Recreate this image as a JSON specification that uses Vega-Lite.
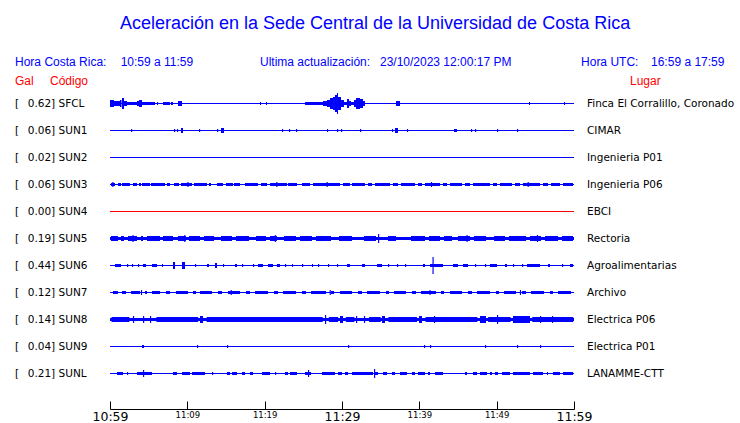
{
  "$schema": "https://vega.github.io/schema/vega-lite/v6.json",
  "padding": {"left": 15, "top": 0, "right": 0, "bottom": 0},
  "autosize": {"type": "pad"},
  "background": "white",
  "spacing": 0,
  "bounds": "flush",
  "config": {
    "view": {"stroke": null},
    "text": {"font": "Liberation Sans", "fontSize": 12, "align": "left", "baseline": "middle"}
  },
  "datasets": {
    "estaciones": [
      {"s": "SFCL", "gal": 0.62, "lugar": "Finca El Corralillo, Coronado"},
      {"s": "SUN1", "gal": 0.06, "lugar": "CIMAR"},
      {"s": "SUN2", "gal": 0.02, "lugar": "Ingenieria P01"},
      {"s": "SUN3", "gal": 0.06, "lugar": "Ingenieria P06"},
      {"s": "SUN4", "gal": 0.00, "lugar": "EBCI"},
      {"s": "SUN5", "gal": 0.19, "lugar": "Rectoria"},
      {"s": "SUN6", "gal": 0.44, "lugar": "Agroalimentarias"},
      {"s": "SUN7", "gal": 0.12, "lugar": "Archivo"},
      {"s": "SUN8", "gal": 0.14, "lugar": "Electrica P06"},
      {"s": "SUN9", "gal": 0.04, "lugar": "Electrica P01"},
      {"s": "SUNL", "gal": 0.21, "lugar": "LANAMME-CTT"}
    ],
    "segmentos": [
      {"s":"SFCL","t0":0,"t1":0.52,"a":7},{"s":"SFCL","t0":0.52,"t1":1.29,"a":5},{"s":"SFCL","t0":1.29,"t1":1.49,"a":7},{"s":"SFCL","t0":1.55,"t1":1.81,"a":11},{"s":"SFCL","t0":1.81,"t1":2.2,"a":5},{"s":"SFCL","t0":2.2,"t1":3.49,"a":3},{"s":"SFCL","t0":3.49,"t1":3.75,"a":5},{"s":"SFCL","t0":3.75,"t1":4.14,"a":7},{"s":"SFCL","t0":4.14,"t1":5.82,"a":3},{"s":"SFCL","t0":6.08,"t1":6.21,"a":3},{"s":"SFCL","t0":6.85,"t1":7.76,"a":3},{"s":"SFCL","t0":7.89,"t1":8.15,"a":3},{"s":"SFCL","t0":8.79,"t1":9.31,"a":5},{"s":"SFCL","t0":19.4,"t1":19.53,"a":3},{"s":"SFCL","t0":20.17,"t1":20.3,"a":3},{"s":"SFCL","t0":25.22,"t1":27.54,"a":3},{"s":"SFCL","t0":27.54,"t1":28.06,"a":5},{"s":"SFCL","t0":28.06,"t1":28.45,"a":7},{"s":"SFCL","t0":28.45,"t1":28.84,"a":11},{"s":"SFCL","t0":28.84,"t1":29.09,"a":13},{"s":"SFCL","t0":29.09,"t1":29.35,"a":17},{"s":"SFCL","t0":29.35,"t1":29.48,"a":21},{"s":"SFCL","t0":29.48,"t1":29.87,"a":13},{"s":"SFCL","t0":29.87,"t1":30.26,"a":7},{"s":"SFCL","t0":30.26,"t1":30.65,"a":3},{"s":"SFCL","t0":30.65,"t1":30.91,"a":9},{"s":"SFCL","t0":30.91,"t1":31.16,"a":5},{"s":"SFCL","t0":31.16,"t1":31.55,"a":3},{"s":"SFCL","t0":31.55,"t1":31.81,"a":7},{"s":"SFCL","t0":31.81,"t1":32.33,"a":11},{"s":"SFCL","t0":32.33,"t1":32.72,"a":9},{"s":"SFCL","t0":32.72,"t1":32.97,"a":5},{"s":"SFCL","t0":36.98,"t1":37.5,"a":5},{"s":"SFCL","t0":54.18,"t1":54.31,"a":3},{"s":"SFCL","t0":58.71,"t1":58.84,"a":3},

      {"s":"SUN1","t0":2.72,"t1":2.87,"a":3},{"s":"SUN1","t0":8.28,"t1":8.43,"a":3},{"s":"SUN1","t0":8.66,"t1":8.81,"a":3},{"s":"SUN1","t0":9.18,"t1":9.44,"a":5},{"s":"SUN1","t0":11.51,"t1":11.66,"a":3},{"s":"SUN1","t0":13.84,"t1":13.99,"a":3},{"s":"SUN1","t0":14.35,"t1":14.74,"a":5},{"s":"SUN1","t0":22.24,"t1":22.39,"a":3},{"s":"SUN1","t0":23.15,"t1":23.3,"a":3},{"s":"SUN1","t0":24.05,"t1":24.2,"a":3},{"s":"SUN1","t0":28.06,"t1":28.21,"a":3},{"s":"SUN1","t0":29.35,"t1":29.5,"a":3},{"s":"SUN1","t0":29.87,"t1":30.02,"a":3},{"s":"SUN1","t0":32.33,"t1":32.48,"a":3},{"s":"SUN1","t0":36.46,"t1":36.61,"a":3},{"s":"SUN1","t0":36.85,"t1":37.24,"a":5},{"s":"SUN1","t0":38.4,"t1":38.55,"a":3},{"s":"SUN1","t0":44.48,"t1":44.87,"a":3},{"s":"SUN1","t0":46.68,"t1":46.83,"a":3},{"s":"SUN1","t0":47.2,"t1":47.35,"a":3},{"s":"SUN1","t0":50.04,"t1":50.19,"a":3},{"s":"SUN1","t0":52.63,"t1":52.78,"a":3},

      {"s":"SUN3","t0":0.13,"t1":0.65,"a":3},{"s":"SUN3","t0":1.03,"t1":1.42,"a":3},{"s":"SUN3","t0":1.55,"t1":2.59,"a":3},{"s":"SUN3","t0":2.97,"t1":3.49,"a":3},{"s":"SUN3","t0":3.75,"t1":4.01,"a":3},{"s":"SUN3","t0":4.14,"t1":5.17,"a":3},{"s":"SUN3","t0":5.3,"t1":7.11,"a":3},{"s":"SUN3","t0":7.37,"t1":7.76,"a":3},{"s":"SUN3","t0":8.28,"t1":8.92,"a":3},{"s":"SUN3","t0":9.18,"t1":10.6,"a":3},{"s":"SUN3","t0":10.86,"t1":12.54,"a":3},{"s":"SUN3","t0":12.8,"t1":13.06,"a":3},{"s":"SUN3","t0":13.84,"t1":14.61,"a":3},{"s":"SUN3","t0":15.0,"t1":15.9,"a":3},{"s":"SUN3","t0":16.03,"t1":16.81,"a":3},{"s":"SUN3","t0":17.46,"t1":19.14,"a":3},{"s":"SUN3","t0":19.53,"t1":20.3,"a":3},{"s":"SUN3","t0":20.69,"t1":22.89,"a":3},{"s":"SUN3","t0":23.02,"t1":24.18,"a":3},{"s":"SUN3","t0":24.83,"t1":25.86,"a":3},{"s":"SUN3","t0":26.25,"t1":29.74,"a":3},{"s":"SUN3","t0":30.13,"t1":31.03,"a":3},{"s":"SUN3","t0":31.29,"t1":32.97,"a":3},{"s":"SUN3","t0":33.36,"t1":33.88,"a":3},{"s":"SUN3","t0":34.27,"t1":36.21,"a":3},{"s":"SUN3","t0":36.59,"t1":37.24,"a":3},{"s":"SUN3","t0":37.63,"t1":39.44,"a":3},{"s":"SUN3","t0":39.83,"t1":40.34,"a":3},{"s":"SUN3","t0":40.73,"t1":42.67,"a":3},{"s":"SUN3","t0":43.06,"t1":43.58,"a":3},{"s":"SUN3","t0":43.97,"t1":45.52,"a":3},{"s":"SUN3","t0":45.91,"t1":46.55,"a":3},{"s":"SUN3","t0":46.94,"t1":49.14,"a":3},{"s":"SUN3","t0":49.53,"t1":50.04,"a":3},{"s":"SUN3","t0":50.43,"t1":51.98,"a":3},{"s":"SUN3","t0":52.37,"t1":53.02,"a":3},{"s":"SUN3","t0":53.4,"t1":55.6,"a":3},{"s":"SUN3","t0":55.99,"t1":56.64,"a":3},{"s":"SUN3","t0":57.03,"t1":58.19,"a":3},{"s":"SUN3","t0":58.58,"t1":59.87,"a":3},{"s":"SUN3","t0":0.3,"t1":0.45,"a":5},{"s":"SUN3","t0":10.0,"t1":10.15,"a":5},{"s":"SUN3","t0":21.5,"t1":21.65,"a":5},{"s":"SUN3","t0":28.0,"t1":28.15,"a":5},{"s":"SUN3","t0":41.5,"t1":41.65,"a":5},{"s":"SUN3","t0":54.0,"t1":54.15,"a":5},

      {"s":"SUN5","t0":0,"t1":60,"a":3},{"s":"SUN5","t0":0.13,"t1":1.03,"a":5},{"s":"SUN5","t0":1.42,"t1":1.81,"a":5},{"s":"SUN5","t0":2.33,"t1":3.49,"a":5},{"s":"SUN5","t0":4.01,"t1":4.27,"a":5},{"s":"SUN5","t0":4.78,"t1":6.47,"a":5},{"s":"SUN5","t0":6.85,"t1":8.15,"a":5},{"s":"SUN5","t0":8.79,"t1":9.83,"a":5},{"s":"SUN5","t0":10.22,"t1":11.64,"a":5},{"s":"SUN5","t0":12.15,"t1":13.45,"a":5},{"s":"SUN5","t0":14.35,"t1":15.78,"a":5},{"s":"SUN5","t0":16.29,"t1":17.97,"a":5},{"s":"SUN5","t0":18.88,"t1":20.17,"a":5},{"s":"SUN5","t0":20.69,"t1":21.59,"a":5},{"s":"SUN5","t0":22.5,"t1":24.05,"a":5},{"s":"SUN5","t0":24.57,"t1":26.12,"a":5},{"s":"SUN5","t0":26.64,"t1":28.58,"a":5},{"s":"SUN5","t0":29.61,"t1":31.29,"a":5},{"s":"SUN5","t0":32.84,"t1":34.4,"a":5},{"s":"SUN5","t0":34.66,"t1":34.81,"a":9},{"s":"SUN5","t0":35.95,"t1":36.98,"a":5},{"s":"SUN5","t0":38.92,"t1":40.73,"a":5},{"s":"SUN5","t0":41.25,"t1":42.67,"a":5},{"s":"SUN5","t0":43.19,"t1":44.22,"a":5},{"s":"SUN5","t0":45.0,"t1":46.55,"a":5},{"s":"SUN5","t0":47.07,"t1":48.62,"a":5},{"s":"SUN5","t0":49.66,"t1":51.08,"a":5},{"s":"SUN5","t0":51.59,"t1":53.79,"a":5},{"s":"SUN5","t0":54.31,"t1":55.73,"a":5},{"s":"SUN5","t0":56.25,"t1":57.93,"a":5},{"s":"SUN5","t0":58.45,"t1":59.87,"a":5},{"s":"SUN5","t0":2.9,"t1":3.05,"a":7},{"s":"SUN5","t0":9.6,"t1":9.75,"a":7},{"s":"SUN5","t0":21.3,"t1":21.45,"a":7},{"s":"SUN5","t0":46.1,"t1":46.25,"a":7},{"s":"SUN5","t0":55.2,"t1":55.35,"a":7},

      {"s":"SUN6","t0":0.65,"t1":1.42,"a":3},{"s":"SUN6","t0":2.2,"t1":2.35,"a":3},{"s":"SUN6","t0":2.84,"t1":2.99,"a":3},{"s":"SUN6","t0":3.62,"t1":3.77,"a":3},{"s":"SUN6","t0":4.27,"t1":4.66,"a":3},{"s":"SUN6","t0":5.43,"t1":6.08,"a":3},{"s":"SUN6","t0":6.72,"t1":6.85,"a":3},{"s":"SUN6","t0":8.15,"t1":8.41,"a":7},{"s":"SUN6","t0":9.31,"t1":9.7,"a":7},{"s":"SUN6","t0":10.99,"t1":11.14,"a":3},{"s":"SUN6","t0":12.54,"t1":12.8,"a":3},{"s":"SUN6","t0":13.58,"t1":13.84,"a":5},{"s":"SUN6","t0":14.61,"t1":14.76,"a":3},{"s":"SUN6","t0":16.16,"t1":16.42,"a":3},{"s":"SUN6","t0":17.07,"t1":17.22,"a":3},{"s":"SUN6","t0":18.49,"t1":18.64,"a":3},{"s":"SUN6","t0":19.14,"t1":19.78,"a":3},{"s":"SUN6","t0":20.43,"t1":21.08,"a":3},{"s":"SUN6","t0":21.59,"t1":21.98,"a":3},{"s":"SUN6","t0":22.63,"t1":22.78,"a":3},{"s":"SUN6","t0":23.54,"t1":23.66,"a":3},{"s":"SUN6","t0":24.83,"t1":24.98,"a":3},{"s":"SUN6","t0":26.12,"t1":26.25,"a":3},{"s":"SUN6","t0":26.9,"t1":27.05,"a":3},{"s":"SUN6","t0":28.19,"t1":28.34,"a":3},{"s":"SUN6","t0":29.35,"t1":29.5,"a":3},{"s":"SUN6","t0":30.65,"t1":31.03,"a":3},{"s":"SUN6","t0":32.59,"t1":32.97,"a":3},{"s":"SUN6","t0":34.53,"t1":35.17,"a":3},{"s":"SUN6","t0":35.95,"t1":36.1,"a":3},{"s":"SUN6","t0":37.11,"t1":37.26,"a":3},{"s":"SUN6","t0":38.15,"t1":38.3,"a":3},{"s":"SUN6","t0":40.47,"t1":40.73,"a":3},{"s":"SUN6","t0":41.38,"t1":43.06,"a":3},{"s":"SUN6","t0":41.7,"t1":41.85,"a":17},{"s":"SUN6","t0":44.35,"t1":45.0,"a":3},{"s":"SUN6","t0":45.65,"t1":46.29,"a":3},{"s":"SUN6","t0":47.2,"t1":47.35,"a":3},{"s":"SUN6","t0":48.49,"t1":48.64,"a":3},{"s":"SUN6","t0":49.14,"t1":50.04,"a":3},{"s":"SUN6","t0":51.08,"t1":51.34,"a":3},{"s":"SUN6","t0":52.11,"t1":52.26,"a":3},{"s":"SUN6","t0":53.28,"t1":53.43,"a":3},{"s":"SUN6","t0":53.92,"t1":55.6,"a":3},{"s":"SUN6","t0":56.64,"t1":56.9,"a":3},{"s":"SUN6","t0":58.45,"t1":58.6,"a":3},{"s":"SUN6","t0":59.48,"t1":59.87,"a":3},

      {"s":"SUN7","t0":0.39,"t1":1.03,"a":3},{"s":"SUN7","t0":1.55,"t1":2.07,"a":3},{"s":"SUN7","t0":2.72,"t1":3.88,"a":3},{"s":"SUN7","t0":4.53,"t1":4.78,"a":3},{"s":"SUN7","t0":5.43,"t1":6.47,"a":3},{"s":"SUN7","t0":7.24,"t1":7.76,"a":3},{"s":"SUN7","t0":8.53,"t1":10.09,"a":3},{"s":"SUN7","t0":10.73,"t1":11.12,"a":3},{"s":"SUN7","t0":11.64,"t1":13.19,"a":3},{"s":"SUN7","t0":13.97,"t1":14.48,"a":3},{"s":"SUN7","t0":15.26,"t1":16.81,"a":3},{"s":"SUN7","t0":17.59,"t1":18.1,"a":3},{"s":"SUN7","t0":18.75,"t1":20.43,"a":3},{"s":"SUN7","t0":21.21,"t1":21.72,"a":3},{"s":"SUN7","t0":22.37,"t1":24.05,"a":3},{"s":"SUN7","t0":24.83,"t1":25.34,"a":3},{"s":"SUN7","t0":25.99,"t1":27.93,"a":3},{"s":"SUN7","t0":28.58,"t1":28.97,"a":3},{"s":"SUN7","t0":29.74,"t1":31.29,"a":3},{"s":"SUN7","t0":32.07,"t1":32.59,"a":3},{"s":"SUN7","t0":33.23,"t1":34.91,"a":3},{"s":"SUN7","t0":35.69,"t1":36.08,"a":3},{"s":"SUN7","t0":36.72,"t1":38.27,"a":3},{"s":"SUN7","t0":39.05,"t1":39.57,"a":3},{"s":"SUN7","t0":40.22,"t1":42.16,"a":3},{"s":"SUN7","t0":42.8,"t1":43.19,"a":3},{"s":"SUN7","t0":43.97,"t1":45.52,"a":3},{"s":"SUN7","t0":46.29,"t1":46.81,"a":3},{"s":"SUN7","t0":47.46,"t1":49.14,"a":3},{"s":"SUN7","t0":49.91,"t1":50.3,"a":3},{"s":"SUN7","t0":50.95,"t1":52.5,"a":3},{"s":"SUN7","t0":53.28,"t1":53.79,"a":3},{"s":"SUN7","t0":54.44,"t1":56.12,"a":3},{"s":"SUN7","t0":56.9,"t1":57.28,"a":3},{"s":"SUN7","t0":57.93,"t1":59.61,"a":3},{"s":"SUN7","t0":4.0,"t1":4.15,"a":5},{"s":"SUN7","t0":15.6,"t1":15.75,"a":5},{"s":"SUN7","t0":28.4,"t1":28.55,"a":5},{"s":"SUN7","t0":41.3,"t1":41.45,"a":5},{"s":"SUN7","t0":53.0,"t1":53.15,"a":5},

      {"s":"SUN8","t0":0,"t1":60,"a":3},{"s":"SUN8","t0":0.2,"t1":2.5,"a":5},{"s":"SUN8","t0":2.97,"t1":3.12,"a":7},{"s":"SUN8","t0":4.27,"t1":4.42,"a":7},{"s":"SUN8","t0":5.17,"t1":5.32,"a":7},{"s":"SUN8","t0":6.0,"t1":11.4,"a":5},{"s":"SUN8","t0":11.64,"t1":12.03,"a":7},{"s":"SUN8","t0":12.5,"t1":27.5,"a":5},{"s":"SUN8","t0":27.8,"t1":27.95,"a":9},{"s":"SUN8","t0":28.3,"t1":29.5,"a":5},{"s":"SUN8","t0":29.74,"t1":30.13,"a":7},{"s":"SUN8","t0":30.5,"t1":31.6,"a":5},{"s":"SUN8","t0":31.81,"t1":31.96,"a":7},{"s":"SUN8","t0":32.84,"t1":32.99,"a":7},{"s":"SUN8","t0":33.5,"t1":35.0,"a":5},{"s":"SUN8","t0":35.17,"t1":35.56,"a":7},{"s":"SUN8","t0":36.0,"t1":39.7,"a":5},{"s":"SUN8","t0":39.96,"t1":40.34,"a":7},{"s":"SUN8","t0":40.8,"t1":47.5,"a":5},{"s":"SUN8","t0":41.9,"t1":42.05,"a":7},{"s":"SUN8","t0":47.84,"t1":48.62,"a":7},{"s":"SUN8","t0":48.9,"t1":51.8,"a":5},{"s":"SUN8","t0":50.04,"t1":50.19,"a":9},{"s":"SUN8","t0":52.11,"t1":54.31,"a":7},{"s":"SUN8","t0":54.6,"t1":59.9,"a":5},{"s":"SUN8","t0":55.6,"t1":55.75,"a":7},{"s":"SUN8","t0":57.15,"t1":57.3,"a":7},

      {"s":"SUN9","t0":4.14,"t1":4.4,"a":3},{"s":"SUN9","t0":11.25,"t1":11.4,"a":3},{"s":"SUN9","t0":15.13,"t1":15.28,"a":3},{"s":"SUN9","t0":30.78,"t1":30.93,"a":3},{"s":"SUN9","t0":40.6,"t1":40.75,"a":3},{"s":"SUN9","t0":41.38,"t1":41.53,"a":3},{"s":"SUN9","t0":48.49,"t1":48.64,"a":3},{"s":"SUN9","t0":52.63,"t1":52.78,"a":3},{"s":"SUN9","t0":55.6,"t1":55.75,"a":3},

      {"s":"SUNL","t0":0.91,"t1":1.68,"a":3},{"s":"SUNL","t0":2.2,"t1":2.35,"a":3},{"s":"SUNL","t0":3.49,"t1":5.43,"a":3},{"s":"SUNL","t0":4.27,"t1":4.42,"a":7},{"s":"SUNL","t0":8.15,"t1":8.66,"a":3},{"s":"SUNL","t0":9.31,"t1":10.34,"a":3},{"s":"SUNL","t0":10.6,"t1":12.28,"a":3},{"s":"SUNL","t0":13.19,"t1":13.34,"a":3},{"s":"SUNL","t0":15.13,"t1":15.52,"a":3},{"s":"SUNL","t0":15.78,"t1":16.42,"a":3},{"s":"SUNL","t0":17.07,"t1":17.46,"a":3},{"s":"SUNL","t0":18.1,"t1":18.49,"a":3},{"s":"SUNL","t0":19.66,"t1":20.69,"a":3},{"s":"SUNL","t0":21.34,"t1":21.49,"a":3},{"s":"SUNL","t0":22.63,"t1":23.02,"a":3},{"s":"SUNL","t0":23.28,"t1":24.18,"a":3},{"s":"SUNL","t0":25.22,"t1":25.99,"a":3},{"s":"SUNL","t0":25.6,"t1":25.75,"a":7},{"s":"SUNL","t0":27.41,"t1":29.09,"a":3},{"s":"SUNL","t0":29.48,"t1":30.0,"a":3},{"s":"SUNL","t0":30.39,"t1":30.78,"a":3},{"s":"SUNL","t0":31.29,"t1":34.01,"a":3},{"s":"SUNL","t0":34.14,"t1":34.66,"a":3},{"s":"SUNL","t0":34.14,"t1":34.29,"a":9},{"s":"SUNL","t0":35.3,"t1":35.82,"a":3},{"s":"SUNL","t0":36.46,"t1":36.85,"a":3},{"s":"SUNL","t0":37.5,"t1":38.4,"a":3},{"s":"SUNL","t0":39.05,"t1":39.44,"a":3},{"s":"SUNL","t0":39.83,"t1":40.73,"a":3},{"s":"SUNL","t0":41.12,"t1":41.38,"a":3},{"s":"SUNL","t0":42.03,"t1":43.06,"a":3},{"s":"SUNL","t0":45.91,"t1":46.16,"a":3},{"s":"SUNL","t0":46.94,"t1":47.46,"a":3},{"s":"SUNL","t0":47.84,"t1":48.75,"a":3},{"s":"SUNL","t0":49.14,"t1":49.4,"a":3},{"s":"SUNL","t0":49.78,"t1":50.17,"a":3},{"s":"SUNL","t0":50.69,"t1":51.72,"a":3},{"s":"SUNL","t0":52.11,"t1":54.31,"a":3},{"s":"SUNL","t0":54.7,"t1":55.99,"a":3},{"s":"SUNL","t0":56.51,"t1":56.64,"a":3},{"s":"SUNL","t0":57.28,"t1":58.19,"a":3},{"s":"SUNL","t0":58.58,"t1":59.87,"a":3}
    ]
  },
  "vconcat": [
    {
      "width": 464,
      "height": 90,
      "layer": [
        {
          "data": {"values": [{"texto": "Aceleración en la Sede Central de la Universidad de Costa Rica"}]},
          "mark": {"type": "text", "fontSize": 18, "color": "#0000ff", "align": "center"},
          "encoding": {
            "x": {"datum": 34.27, "type": "quantitative", "scale": {"domain": [0, 60], "nice": false, "zero": false}, "axis": null},
            "y": {"datum": "titulo", "type": "nominal", "scale": {"type": "point", "domain": ["titulo", "_", "h1", "h2"], "padding": 0.8684, "align": 0.72}, "axis": null},
            "text": {"field": "texto"}
          }
        },
        {
          "data": {"values": [{"texto": "Hora Costa Rica:"}]},
          "mark": {"type": "text", "color": "#0000ff"},
          "encoding": {"x": {"datum": -12.28, "type": "quantitative"}, "y": {"datum": "h1", "type": "nominal"}, "text": {"field": "texto"}}
        },
        {
          "data": {"values": [{"texto": "10:59 a 11:59"}]},
          "mark": {"type": "text", "color": "#0000ff"},
          "encoding": {"x": {"datum": 1.38, "type": "quantitative"}, "y": {"datum": "h1", "type": "nominal"}, "text": {"field": "texto"}}
        },
        {
          "data": {"values": [{"texto": "Ultima actualización:"}]},
          "mark": {"type": "text", "color": "#0000ff"},
          "encoding": {"x": {"datum": 19.4, "type": "quantitative"}, "y": {"datum": "h1", "type": "nominal"}, "text": {"field": "texto"}}
        },
        {
          "data": {"values": [{"texto": "23/10/2023 12:00:17 PM"}]},
          "mark": {"type": "text", "color": "#0000ff"},
          "encoding": {"x": {"datum": 34.91, "type": "quantitative"}, "y": {"datum": "h1", "type": "nominal"}, "text": {"field": "texto"}}
        },
        {
          "data": {"values": [{"texto": "Hora UTC:"}]},
          "mark": {"type": "text", "color": "#0000ff"},
          "encoding": {"x": {"datum": 60.91, "type": "quantitative"}, "y": {"datum": "h1", "type": "nominal"}, "text": {"field": "texto"}}
        },
        {
          "data": {"values": [{"texto": "16:59 a 17:59"}]},
          "mark": {"type": "text", "color": "#0000ff"},
          "encoding": {"x": {"datum": 69.96, "type": "quantitative"}, "y": {"datum": "h1", "type": "nominal"}, "text": {"field": "texto"}}
        },
        {
          "data": {"values": [{"texto": "Gal"}]},
          "mark": {"type": "text", "color": "#ff0000"},
          "encoding": {"x": {"datum": -12.28, "type": "quantitative"}, "y": {"datum": "h2", "type": "nominal"}, "text": {"field": "texto"}}
        },
        {
          "data": {"values": [{"texto": "Código"}]},
          "mark": {"type": "text", "color": "#ff0000"},
          "encoding": {"x": {"datum": -7.76, "type": "quantitative"}, "y": {"datum": "h2", "type": "nominal"}, "text": {"field": "texto"}}
        },
        {
          "data": {"values": [{"texto": "Lugar"}]},
          "mark": {"type": "text", "color": "#ff0000"},
          "encoding": {"x": {"datum": 67.24, "type": "quantitative"}, "y": {"datum": "h2", "type": "nominal"}, "text": {"field": "texto"}}
        }
      ]
    },
    {
      "width": 464,
      "height": 319,
      "layer": [
        {
          "data": {"name": "estaciones"},
          "mark": {"type": "bar"},
          "encoding": {
            "x": {
              "datum": 0, "type": "quantitative",
              "scale": {"domain": [0, 60], "nice": false, "zero": false},
              "axis": {
                "values": [0, 5, 10, 15, 20, 25, 30, 35, 40, 45, 50, 55, 60],
                "title": null, "grid": false,
                "domainColor": "#000000", "domainWidth": 1,
                "tickColor": "#000000", "tickWidth": 1, "tickSize": -8,
                "labelPadding": 9, "labelFont": "DejaVu Sans", "labelColor": "#000000",
                "labelFontSize": {"condition": {"test": "datum.value % 30 == 0", "value": 12.5}, "value": 8.5},
                "labelExpr": "datum.value % 10 != 0 ? '' : ['10:59','11:09','11:19','11:29','11:39','11:49','11:59'][datum.value / 10]",
                "labelFlush": false, "labelOverlap": false, "labelBound": false,
                "labelBaseline": "top", "labelAlign": "center"
              }
            },
            "x2": {"datum": 60},
            "y": {
              "field": "s", "type": "nominal",
              "scale": {"domain": ["SFCL","SUN1","SUN2","SUN3","SUN4","SUN5","SUN6","SUN7","SUN8","SUN9","SUNL"], "paddingInner": 0, "paddingOuter": 0.4074, "align": 0},
              "axis": null
            },
            "size": {"value": 1},
            "color": {"condition": {"test": "datum.s === 'SUN4'", "value": "#ff0000"}, "value": "#0000ff"}
          }
        },
        {
          "data": {"name": "segmentos"},
          "mark": {"type": "bar"},
          "encoding": {
            "x": {"field": "t0", "type": "quantitative"},
            "x2": {"field": "t1"},
            "y": {"field": "s", "type": "nominal"},
            "size": {"field": "a", "type": "quantitative", "scale": {"domain": [0, 30], "range": [0, 30]}, "legend": null},
            "color": {"value": "#0000ff"}
          }
        },
        {
          "data": {"name": "estaciones"},
          "mark": {"type": "text", "font": "DejaVu Sans", "fontSize": 10.5, "color": "#000000"},
          "encoding": {
            "x": {"datum": -12.28, "type": "quantitative"},
            "y": {"field": "s", "type": "nominal"},
            "text": {"value": "["}
          }
        },
        {
          "data": {"name": "estaciones"},
          "transform": [{"calculate": "format(datum.gal, '.2f') + '] ' + datum.s", "as": "etiqueta"}],
          "mark": {"type": "text", "font": "DejaVu Sans", "fontSize": 10.5, "color": "#000000"},
          "encoding": {
            "x": {"datum": -10.64, "type": "quantitative"},
            "y": {"field": "s", "type": "nominal"},
            "text": {"field": "etiqueta"}
          }
        },
        {
          "data": {"name": "estaciones"},
          "mark": {"type": "text", "font": "DejaVu Sans", "fontSize": 10.5, "color": "#000000"},
          "encoding": {
            "x": {"datum": 61.68, "type": "quantitative"},
            "y": {"field": "s", "type": "nominal"},
            "text": {"field": "lugar"}
          }
        }
      ]
    }
  ]
}
